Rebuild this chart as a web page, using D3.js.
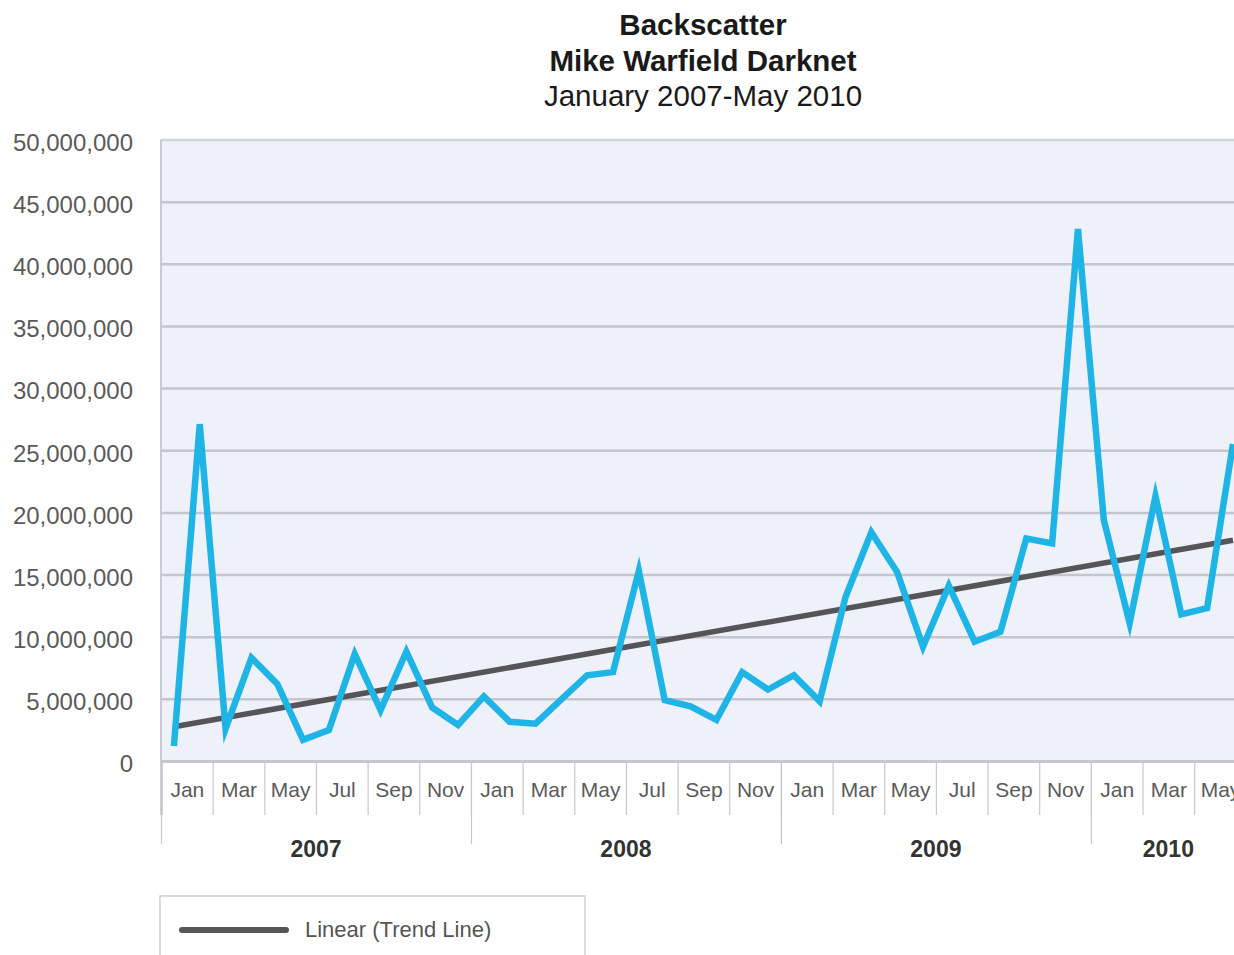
<!DOCTYPE html>
<html>
<head>
<meta charset="utf-8">
<script src="https://cdn.jsdelivr.net/npm/d3@7/dist/d3.min.js"></script>
<style>
  html, body { margin: 0; padding: 0; background: #ffffff; overflow: hidden; }
  svg { display: block; font-family: "Liberation Sans", Arial, Helvetica, sans-serif; }
</style>
</head>
<body>
<svg id="chart" width="1234" height="955"></svg>
<script>
// Chart text
const titleLines = ["Backscatter", "Mike Warfield Darknet", "January 2007-May 2010"];
const legendLabel = "Linear (Trend Line)";

// Time axis: years and the month names shown under every second month
const years = [2007, 2008, 2009, 2010];
const monthNames = ["Jan", "Feb", "Mar", "Apr", "May", "Jun", "Jul", "Aug", "Sep", "Oct", "Nov", "Dec"];

// Monthly backscatter packet counts, Jan 2007 onwards
const backscatter = [
  1200000, 27100000, 2600000, 8300000, 6200000, 1700000, 2500000, 8600000, 4100000, 8800000, 4300000, 2900000,
  5200000, 3150000, 3000000, 4950000, 6900000, 7150000, 15300000, 4900000, 4400000, 3300000, 7150000, 5750000,
  6900000, 4800000, 13200000, 18400000, 15200000, 9200000, 14100000, 9600000, 10400000, 17900000, 17500000, 42800000,
  19400000, 11100000, 21300000, 11800000, 12300000, 25500000
];

// Value axis ticks
const yTickValues = [0, 5000000, 10000000, 15000000, 20000000, 25000000, 30000000, 35000000, 40000000, 45000000, 50000000];

const svg = d3.select("#chart");

const plot = { left: 161, top: 139.5, bottom: 761, monthWidth: 25.83 };
const nMonths = years.length * 12 - 6; // Jan 2007 .. Jun 2010 slots on the axis
const x = d3.scaleLinear().domain([0, nMonths]).range([plot.left, plot.left + nMonths * plot.monthWidth]);
const y = d3.scaleLinear().domain([0, 50000000]).range([plot.bottom, plot.top]);

// Plot background
svg.append("rect")
  .attr("x", plot.left).attr("y", plot.top)
  .attr("width", x(nMonths) - plot.left).attr("height", plot.bottom - plot.top)
  .attr("fill", "#eef0fa");

// Value axis with horizontal gridlines
const yAxis = svg.append("g")
  .attr("transform", `translate(${plot.left},0)`)
  .call(d3.axisLeft(y).tickValues(yTickValues).tickFormat(d3.format(","))
    .tickSize(-(x(nMonths) - plot.left)).tickPadding(28));
yAxis.select(".domain").remove();
yAxis.selectAll(".tick line")
  .attr("stroke", d => d === 50000000 ? "#d2d3dc" : "#c4c5cd")
  .attr("stroke-width", 2.5);
yAxis.selectAll(".tick text")
  .attr("fill", "#5a5a5a")
  .attr("font-size", 24)
  .attr("dy", "0.45em");

// Left frame of the plot
svg.append("line")
  .attr("x1", plot.left).attr("x2", plot.left)
  .attr("y1", plot.top).attr("y2", plot.bottom)
  .attr("stroke", "#c9cad2").attr("stroke-width", 2);

// Month separators every two months, with month labels between them
const pairStarts = d3.range(0, nMonths + 1, 2);
const sepAxis = svg.append("g")
  .attr("transform", `translate(0,${plot.bottom})`)
  .call(d3.axisBottom(x).tickValues(pairStarts).tickSize(54).tickFormat(""));
sepAxis.select(".domain").attr("stroke", "#c4c5cd").attr("stroke-width", 2.5);
sepAxis.selectAll(".tick line").attr("stroke", "#c8c8cc").attr("stroke-width", 1.2);

const labelAxis = svg.append("g")
  .attr("transform", `translate(0,${plot.bottom})`)
  .call(d3.axisBottom(x).tickValues(pairStarts.slice(0, -1).map(m => m + 1))
    .tickSize(0).tickPadding(21)
    .tickFormat(m => monthNames[(m - 1) % 12]));
labelAxis.select(".domain").remove();
labelAxis.selectAll(".tick text").attr("fill", "#5a5a5a").attr("font-size", 21);

// Year separators and year labels
const yearStarts = years.map((yr, i) => i * 12);
const yearAxis = svg.append("g")
  .attr("transform", `translate(0,${plot.bottom})`)
  .call(d3.axisBottom(x).tickValues(yearStarts).tickSize(83).tickFormat(""));
yearAxis.select(".domain").remove();
yearAxis.selectAll(".tick line").attr("stroke", "#c8c8cc").attr("stroke-width", 1.2);

svg.append("g").selectAll("text")
  .data(years)
  .join("text")
  .attr("x", (yr, i) => x((i * 12 + Math.min(i * 12 + 12, nMonths)) / 2))
  .attr("y", 857)
  .attr("text-anchor", "middle")
  .attr("font-size", 23)
  .attr("font-weight", "bold")
  .attr("fill", "#333333")
  .text(yr => yr);

// Least-squares trend of the monthly series
const idx = backscatter.map((v, i) => i);
const meanI = d3.mean(idx), meanV = d3.mean(backscatter);
const slope = d3.sum(idx, i => (i - meanI) * (backscatter[i] - meanV)) / d3.sum(idx, i => (i - meanI) ** 2);
const intercept = meanV - slope * meanI;
const trend = [0, backscatter.length - 1].map(i => ({ i, v: intercept + slope * i }));

const mx = i => x(i + 0.5);

svg.append("path")
  .datum(trend)
  .attr("fill", "none")
  .attr("stroke", "#555557")
  .attr("stroke-width", 5.5)
  .attr("d", d3.line().x(d => mx(d.i)).y(d => y(d.v)));

// Backscatter series
svg.append("path")
  .datum(backscatter)
  .attr("fill", "none")
  .attr("stroke", "#1fb4e6")
  .attr("stroke-width", 6.5)
  .attr("stroke-linejoin", "miter")
  .attr("stroke-miterlimit", 10)
  .attr("d", d3.line().x((d, i) => mx(i)).y(d => y(d)));

// Titles
svg.append("g").selectAll("text")
  .data(titleLines)
  .join("text")
  .attr("x", 703)
  .attr("y", (d, i) => 35 + i * 35.5)
  .attr("text-anchor", "middle")
  .attr("font-size", 29.5)
  .attr("font-weight", (d, i) => i < 2 ? "bold" : "normal")
  .attr("fill", "#1a1a1a")
  .text(d => d);

// Legend
const legend = svg.append("g");
legend.append("rect")
  .attr("x", 160).attr("y", 896)
  .attr("width", 425).attr("height", 80)
  .attr("fill", "#ffffff")
  .attr("stroke", "#cfcfcf").attr("stroke-width", 1.5);
legend.append("line")
  .attr("x1", 182).attr("x2", 286)
  .attr("y1", 930).attr("y2", 930)
  .attr("stroke", "#555557").attr("stroke-width", 6).attr("stroke-linecap", "round");
legend.append("text")
  .attr("x", 305).attr("y", 937)
  .attr("font-size", 22)
  .attr("fill", "#555555")
  .text(legendLabel);
</script>
</body>
</html>
